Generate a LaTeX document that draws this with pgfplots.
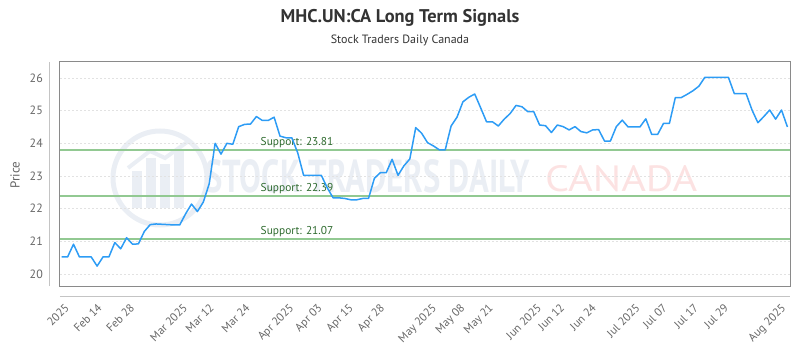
\documentclass[border=0pt]{standalone}
\usepackage{fontspec}
\setmainfont{PT Sans}
\usepackage{graphicx}
\usepackage{pgfplots}
\pgfplotsset{compat=1.18}
\definecolor{linec}{HTML}{2D9CF5}
\definecolor{supl}{HTML}{92C992}
\definecolor{supt}{HTML}{2F6B2F}
\definecolor{gridc}{HTML}{E2E2E2}
\definecolor{boxc}{HTML}{8A8A8A}
\definecolor{txtc}{HTML}{666666}
\definecolor{titc}{HTML}{333333}
\definecolor{wmblue}{HTML}{EAEEF4}
\definecolor{wmred}{HTML}{FCE2E2}
\begin{document}
\begin{tikzpicture}[x=1bp,y=1bp]
\useasboundingbox (-60,-64) rectangle (740,286);
% watermark (pixel (px,py) -> (px-60, 286-py))
\draw[wmblue, line width=5bp] (100,108) circle (47);
\fill[wmblue] (72,78) rectangle (82,115);
\fill[wmblue] (86,78) rectangle (96,128);
\fill[wmblue] (100,78) rectangle (110,122);
\fill[wmblue] (114,78) rectangle (124,135);
\draw[wmblue, line width=4bp] (68,118) -- (90,135) -- (105,128) -- (130,146);
\node[anchor=south west, inner sep=0, text=wmblue] at (145,93) {\resizebox{325bp}{33bp}{\bfseries STOCK TRADERS DAILY}};
\node[anchor=south west, inner sep=0, text=wmred] at (485,94) {\resizebox{152bp}{26bp}{CANADA}};
% extra axis lines
\draw[gridc!70!gray, line width=1bp] (-10,0) -- (-10,224);
\draw[gridc!70!gray, line width=1bp] (0,-10) -- (730,-10);
% titles
\node[anchor=base, text=titc, font=\fontsize{18.4bp}{21bp}\selectfont\bfseries] at (340,264) {MHC.UN:CA Long Term Signals};
\node[anchor=base, text=titc, font=\fontsize{12bp}{14bp}\selectfont] at (340,243) {Stock Traders Daily Canada};
\node[rotate=90, text=txtc, font=\fontsize{13bp}{15bp}\selectfont] at (-45,111) {Price};
\begin{axis}[at={(0,0)}, anchor=south west, scale only axis,
  width=730bp, height=224bp,
  xmin=-0.29, xmax=123.44, ymin=19.63, ymax=26.49,
  axis line style={boxc, line width=1bp},
  ytick={20,21,22,23,24,25,26},
  ymajorgrids, grid style={gridc, dash pattern=on 2bp off 2bp, line width=0.8bp},
  major tick length=0pt,
  /pgf/number format/assume math mode=true,
  yticklabel style={text=txtc, font=\fontsize{12bp}{14bp}\selectfont, anchor=east, inner sep=0pt, xshift=-17bp},
  xtick={0.54,6.1,11.6,20.6,25.1,31.2,38.6,43.4,48.7,54.0,62.8,67.6,72.4,80.6,84.5,89.9,97.3,101.9,107.2,112.3,122.0},
  xticklabels={2025,Feb 14,Feb 28,Mar 2025,Mar 12,Mar 24,Apr 2025,Apr 03,Apr 15,Apr 28,May 2025,May 08,May 21,Jun 2025,Jun 12,Jun 24,Jul 2025,Jul 07,Jul 17,Jul 29,Aug 2025},
  xticklabel style={yshift=-17bp, xshift=-1bp, rotate=45, anchor=north east, inner sep=0pt, text=txtc, font=\fontsize{11.5bp}{13bp}\selectfont},
  clip=false,
]
\addplot[supl, line width=2bp] coordinates {(-0.29,23.81) (123.44,23.81)};
\addplot[supl, line width=2bp] coordinates {(-0.29,22.39) (123.44,22.39)};
\addplot[supl, line width=2bp] coordinates {(-0.29,21.07) (123.44,21.07)};
\node[anchor=base west, inner sep=0pt, text=supt, font=\fontsize{11.4bp}{14bp}\selectfont, yshift=4bp] at (axis cs:33.7,23.81) {Support: 23.81};
\node[anchor=base west, inner sep=0pt, text=supt, font=\fontsize{11.4bp}{14bp}\selectfont, yshift=4bp] at (axis cs:33.7,22.39) {Support: 22.39};
\node[anchor=base west, inner sep=0pt, text=supt, font=\fontsize{11.4bp}{14bp}\selectfont, yshift=4bp] at (axis cs:33.7,21.07) {Support: 21.07};
\addplot[linec, line width=1.5bp, line join=round] coordinates {
(0,20.52)(1,20.52)(2,20.91)(3,20.52)(4,20.52)(5,20.52)(6,20.24)(7,20.52)(8,20.52)(9,20.96)
(10,20.77)(11,21.11)(12,20.91)(13,20.92)(14,21.30)(15,21.51)(16,21.53)(17,21.52)(18,21.51)(19,21.50)
(20,21.50)(21,21.84)(22,22.14)(23,21.91)(24,22.20)(25,22.76)(26,24.00)(27,23.67)(28,24.00)(29,23.97)
(30,24.51)(31,24.58)(32,24.59)(33,24.82)(34,24.70)(35,24.70)(36,24.80)(37,24.22)(38,24.17)(39,24.17)
(40,23.71)(41,23.02)(42,23.02)(43,23.02)(44,23.02)(45,22.64)(46,22.33)(47,22.33)(48,22.31)(49,22.27)
(50,22.27)(51,22.31)(52,22.31)(53,22.93)(54,23.10)(55,23.10)(56,23.51)(57,23.02)(58,23.31)(59,23.52)
(60,24.48)(61,24.31)(62,24.02)(63,23.92)(64,23.80)(65,23.80)(66,24.53)(67,24.80)(68,25.27)(69,25.41)
(70,25.51)(71,25.09)(72,24.66)(73,24.66)(74,24.53)(75,24.74)(76,24.91)(77,25.16)(78,25.12)(79,24.97)
(80,24.97)(81,24.56)(82,24.54)(83,24.33)(84,24.56)(85,24.51)(86,24.41)(87,24.51)(88,24.36)(89,24.32)
(90,24.41)(91,24.42)(92,24.07)(93,24.07)(94,24.51)(95,24.71)(96,24.50)(97,24.50)(98,24.50)(99,24.75)
(100,24.27)(101,24.27)(102,24.61)(103,24.61)(104,25.40)(105,25.40)(106,25.50)(107,25.61)(108,25.75)(109,26.02)
(110,26.02)(111,26.02)(112,26.02)(113,26.02)(114,25.52)(115,25.52)(116,25.52)(117,25.02)(118,24.63)(119,24.82)
(120,25.02)(121,24.74)(122,25.02)(123,24.50)
};
\end{axis}
\end{tikzpicture}
\end{document}
